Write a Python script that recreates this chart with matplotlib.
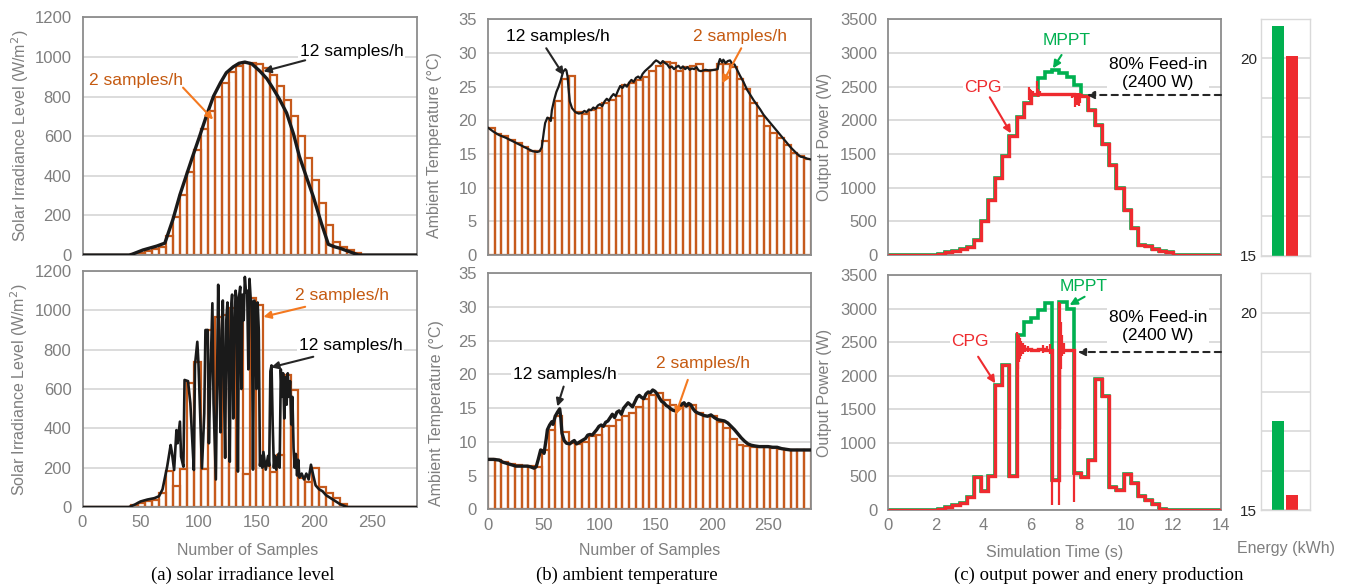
import numpy as np
import matplotlib
matplotlib.use('Agg')
import matplotlib.pyplot as plt

plt.rcParams['font.family'] = ['Liberation Sans', 'DejaVu Sans']

# ---- data: 2 samples/h bars (48 slots of 6 samples) ----
irr_top_2h = [0, 0, 0, 0, 0, 0, 0, 5, 12, 22, 32, 42, 95, 193, 305, 420, 530, 635, 725, 800,
              870, 925, 955, 970, 970, 965, 945, 910, 855, 780, 700, 600, 490, 380, 265, 150,
              65, 40, 25, 8, 0, 0, 0, 0, 0, 0, 0, 0]
irr_bot_2h = [0, 0, 0, 0, 0, 0, 0, 12, 20, 30, 38, 70, 181, 108, 193, 632, 739, 193, 900, 964,
              975, 1010, 1060, 170, 1065, 1025, 206, 180, 265, 671, 595, 150, 125, 198, 100, 71,
              46, 15, 0, 0, 0, 0, 0, 0, 0, 0, 0, 0]
temp_top_2h = [18.9, 18.0, 17.6, 17.1, 16.6, 16.0, 15.5, 15.4, 17.0, 20.3, 22.9, 26.2, 26.6, 21.2,
               21.0, 21.6, 21.9, 22.5, 23.0, 23.6, 25.3, 25.5, 26.0, 26.5, 27.3, 28.0, 28.7, 28.5,
               27.3, 27.9, 28.0, 28.3, 27.3, 27.4, 28.3, 28.4, 27.9, 26.2, 24.7, 22.5, 20.6, 19.1,
               18.1, 17.3, 16.4, 15.2, 14.7, 14.3]
temp_bot_2h = [7.4, 7.3, 7.0, 6.7, 6.5, 6.4, 6.4, 6.2, 8.8, 11.8, 13.8, 11.4, 9.8, 9.7, 10.0, 10.8,
               11.0, 12.3, 12.3, 13.3, 13.8, 14.3, 15.2, 16.3, 17.0, 17.2, 16.2, 15.4, 15.0, 15.3,
               15.4, 14.3, 13.9, 13.8, 12.9, 12.0, 10.5, 9.5, 9.4, 9.3, 9.3, 9.2, 9.1, 8.9, 8.8,
               8.8, 8.8, 8.8]

# ---- data: 12 samples/h lines, (sample, value) ----
irr_top_12h = [(0, 0), (40, 0), (42, 2), (52, 25), (64, 45), (71, 60), (78, 180), (84, 304),
               (90, 410), (95, 498), (101, 600), (107, 705), (113, 802), (119, 870), (124, 920),
               (130, 950), (135, 968), (140, 974), (146, 965), (153, 928), (159, 890), (164, 844),
               (170, 785), (176, 717), (182, 610), (187, 498), (193, 395), (199, 295), (206, 160),
               (212, 54), (217, 42), (222, 34), (230, 17), (238, 0), (288, 0)]
irr_bot_12h = [(0, 0), (40, 0), (45, 12), (50, 28), (56, 38), (62, 45), (66, 55), (69, 90), (73, 205),
               (76, 315), (77, 281), (79, 188), (81, 391), (82, 324), (84, 434), (85, 256), (87, 205),
               (88, 646), (91, 640), (93, 527), (95, 300), (96, 188), (97, 722), (99, 840), (100, 730),
               (103, 197), (105, 476), (106, 900), (108, 900), (109, 324), (110, 600), (112, 1036),
               (113, 527), (115, 140), (117, 1130), (118, 700), (119, 380), (120, 900), (121, 1050),
               (122, 600), (123, 250), (124, 950), (125, 1040), (126, 660), (127, 230), (128, 1000),
               (129, 1080), (130, 450), (131, 850), (132, 1100), (133, 1050), (134, 180), (135, 1070),
               (136, 1120), (137, 600), (138, 1080), (139, 950), (140, 1170), (141, 1090), (142, 1100),
               (143, 700), (144, 1160), (145, 1060), (146, 1040), (147, 190), (148, 1050), (149, 1000),
               (150, 600), (151, 1040), (152, 900), (153, 210), (154, 260), (155, 200), (156, 280),
               (158, 190), (160, 260), (161, 210), (162, 690), (163, 720), (164, 420), (165, 200),
               (166, 260), (167, 190), (169, 270), (170, 200), (171, 700), (172, 560), (173, 680),
               (174, 450), (175, 660), (176, 520), (177, 680), (178, 560), (179, 640), (180, 420),
               (181, 560), (182, 300), (183, 200), (184, 270), (185, 160), (186, 240), (187, 150),
               (189, 170), (191, 140), (193, 170), (195, 140), (197, 215), (199, 160), (201, 110),
               (204, 90), (207, 80), (210, 60), (214, 45), (218, 30), (222, 15), (228, 0), (288, 0)]
temp_top_12h = [(0, 18.9), (5, 18.3), (10, 17.8), (16, 17.4), (22, 16.9), (28, 16.4), (34, 15.9),
                (40, 15.4), (44, 15.3), (46, 15.4), (48, 16.0), (50, 18.5), (51, 19.6), (53, 20.4),
                (55, 20.2), (56, 19.9), (57, 21.5), (59, 23.0), (61, 24.2), (63, 25.0), (65, 26.0),
                (67, 27.2), (69, 27.6), (70, 27.4), (71, 26.5), (72, 24.5), (73, 22.8), (75, 21.8),
                (78, 21.2), (81, 21.0), (84, 21.1), (86, 21.4), (88, 21.2), (90, 21.6), (92, 21.5),
                (94, 21.9), (96, 21.7), (98, 22.2), (100, 22.4), (102, 22.1), (104, 22.8), (106, 23.2),
                (108, 22.9), (110, 23.5), (112, 23.9), (114, 23.6), (116, 24.4), (118, 25.1),
                (120, 24.8), (122, 25.3), (124, 25.0), (126, 25.6), (128, 26.0), (130, 25.7),
                (132, 26.3), (134, 26.5), (136, 26.2), (138, 26.9), (140, 27.3), (142, 27.6),
                (144, 27.9), (146, 28.2), (148, 28.6), (150, 28.9), (152, 28.7), (154, 28.4),
                (156, 28.8), (158, 28.5), (160, 28.3), (162, 27.8), (164, 28.0), (166, 27.6),
                (168, 27.9), (170, 28.1), (172, 27.7), (174, 28.0), (176, 27.6), (178, 27.9),
                (180, 27.5), (182, 27.7), (184, 27.6), (186, 27.9), (188, 27.4), (190, 27.3),
                (194, 27.5), (198, 27.4), (202, 27.5), (205, 27.6), (206, 28.6), (207, 29.1),
                (209, 28.6), (210, 29.0), (212, 28.5), (214, 28.8), (216, 28.9), (218, 28.4),
                (220, 28.3), (222, 27.6), (225, 26.6), (228, 25.7), (231, 24.6), (234, 23.8),
                (237, 23.0), (240, 22.3), (243, 21.6), (246, 20.8), (249, 20.2), (252, 19.6),
                (255, 19.0), (258, 18.4), (261, 17.8), (264, 17.2), (267, 16.6), (270, 16.0),
                (273, 15.5), (276, 15.0), (279, 14.6), (282, 14.5), (285, 14.3), (288, 14.2)]
temp_bot_12h = [(0, 7.4), (5, 7.4), (10, 7.3), (13, 7.0), (17, 6.8), (21, 6.6), (25, 6.4), (30, 6.4),
                (35, 6.4), (38, 6.3), (41, 6.1), (43, 6.3), (45, 7.5), (47, 8.8), (49, 8.6), (50, 8.3),
                (52, 10.5), (53, 11.8), (55, 12.5), (57, 13.0), (58, 12.6), (60, 13.8), (62, 14.4),
                (64, 14.9), (65, 13.5), (66, 11.3), (68, 10.2), (70, 9.8), (73, 9.7), (75, 10.0),
                (77, 10.2), (79, 9.7), (81, 9.9), (83, 10.1), (85, 10.3), (87, 10.5), (89, 11.0),
                (91, 11.1), (93, 11.0), (95, 11.4), (97, 11.8), (99, 12.3), (101, 12.5), (103, 12.3),
                (105, 12.9), (107, 13.1), (109, 13.6), (111, 14.1), (113, 13.6), (115, 14.4),
                (117, 14.6), (119, 14.1), (121, 15.0), (123, 15.4), (125, 15.8), (127, 15.5),
                (129, 15.2), (131, 15.9), (133, 16.6), (135, 16.9), (137, 16.6), (139, 16.4),
                (141, 17.1), (143, 17.4), (145, 17.3), (147, 17.7), (149, 17.5), (151, 17.1),
                (153, 16.5), (155, 16.0), (157, 15.8), (159, 15.4), (161, 15.2), (163, 14.9),
                (165, 14.7), (167, 14.6), (169, 14.9), (171, 15.2), (173, 15.6), (175, 15.8),
                (177, 15.3), (179, 15.7), (181, 15.5), (183, 14.9), (185, 14.5), (187, 14.3),
                (190, 14.1), (193, 13.9), (196, 13.8), (199, 14.0), (202, 13.6), (205, 13.3),
                (208, 13.2), (211, 13.1), (214, 12.8), (217, 12.3), (220, 11.8), (223, 11.2),
                (226, 10.6), (229, 10.1), (232, 9.7), (235, 9.5), (238, 9.4), (242, 9.3), (246, 9.3),
                (250, 9.3), (254, 9.2), (258, 9.2), (262, 9.0), (266, 8.9), (270, 8.8), (276, 8.8),
                (282, 8.8), (288, 8.8)]

# ---- data: output power per 0.3 s step ----
mppt_top = [0, 0, 0, 0, 0, 0, 0, 15, 40, 60, 90, 115, 223, 505, 817, 1148, 1470, 1767, 2044, 2262,
            2380, 2623, 2722, 2747, 2700, 2640, 2525, 2361, 2153, 1930, 1643, 1336, 990, 668, 400,
            144, 140, 89, 60, 45, 5, 0, 0, 0, 0, 0, 0, 0]
cpg_top = [0, 0, 0, 0, 0, 0, 0, 15, 40, 60, 90, 115, 223, 505, 817, 1148, 1470, 1767, 2044, 2262,
           2395, 2390, 2385, 2390, 2385, 2390, 2380, 2361, 2153, 1930, 1643, 1336, 990, 668, 400,
           144, 140, 89, 60, 45, 5, 0, 0, 0, 0, 0, 0, 0]
mppt_bot = [0, 0, 0, 0, 0, 0, 0, 20, 50, 70, 100, 190, 496, 288, 510, 1861, 2159, 500, 2600, 2800,
            2860, 2975, 3080, 450, 3100, 3000, 550, 490, 740, 1950, 1700, 350, 300, 530, 400, 208,
            149, 94, 15, 0, 0, 0, 0, 0, 0, 0, 0, 0]
cpg_bot = [0, 0, 0, 0, 0, 0, 0, 20, 50, 70, 100, 190, 496, 288, 510, 1861, 2159, 500, 2420, 2400,
           2390, 2395, 2385, 450, 2390, 2380, 550, 490, 740, 1950, 1700, 350, 300, 530, 400, 208,
           149, 94, 15, 0, 0, 0, 0, 0, 0, 0, 0, 0]
# CPG transients (time s, low W, high W)
cpg_top_spikes = [(5.90, 2300, 2490), (5.96, 2320, 2470), (6.02, 2340, 2450), (6.10, 2360, 2430),
                  (6.26, 2370, 2580), (6.32, 2350, 2470), (6.40, 2370, 2440), (7.75, 2330, 2410),
                  (7.85, 2200, 2400), (7.95, 2230, 2400), (8.02, 2210, 2400), (8.08, 2260, 2400)]
cpg_bot_spikes = [(5.40, 500, 2650), (5.44, 2100, 2620), (5.48, 2200, 2600), (5.53, 2250, 2560),
                  (5.60, 2300, 2520), (5.68, 2330, 2480), (5.76, 2350, 2460), (5.86, 2360, 2440),
                  (6.50, 2340, 2460), (6.66, 2350, 2450), (6.80, 2330, 2470), (6.90, 80, 450),
                  (7.20, 80, 3100), (7.24, 1200, 3080), (7.28, 2100, 2800), (7.33, 2300, 2600),
                  (7.40, 2330, 2480), (7.80, 120, 550)]

energy_labels = ['MPPT', 'CPG']
energy_top = [20.82, 20.05]
energy_bot = [17.25, 15.39]

# ---- style ----
W, H = 1345, 587
ORANGE = '#C65A1C'
ORANGE_TXT = '#C55A11'
ORANGE_ARR = '#F47920'
GREEN = '#00B050'
RED = '#EE2B2F'
GRAY = '#7F7F7F'
FRAME = '#8C8C8C'
GRID = '#D9D9D9'

fig = plt.figure(figsize=(W / 100, H / 100), dpi=100)


def px_axes(x0, y0, x1, y1):
    return fig.add_axes([x0 / W, 1 - y1 / H, (x1 - x0) / W, (y1 - y0) / H])


def px_text(x, y, s, **kw):
    fig.text(x / W, 1 - y / H, s, ha='center', va='center', **kw)


def style(ax, show_x):
    for sp in ax.spines.values():
        sp.set_color(FRAME)
        sp.set_linewidth(1.3)
    ax.grid(axis='y', color=GRID, lw=1.3)
    ax.set_axisbelow(True)
    ax.tick_params(length=0, labelsize=12, labelcolor=GRAY, pad=8)
    ax.tick_params(axis='x', pad=6)
    if not show_x:
        ax.set_xticklabels([])


box = dict(facecolor='white', edgecolor='none', pad=1)


def note(ax, s, pos, start, end, color, acolor):
    ax.text(pos[0], pos[1], s, color=color, fontsize=12.5, ha='center', va='center', bbox=box, zorder=6)
    ax.annotate('', xy=end, xytext=start, zorder=6,
                arrowprops=dict(arrowstyle='-|>', color=acolor, lw=1.5, mutation_scale=11,
                                shrinkA=0, shrinkB=0))


slot_x = np.arange(48) * 6

# ---- (a) solar irradiance ----
for (y0, y1), bars, line, show_x in [((17.3, 255), irr_top_2h, irr_top_12h, False),
                                     ((271, 507), irr_bot_2h, irr_bot_12h, True)]:
    ax = px_axes(82.5, y0, 416.5, y1)
    ax.bar(slot_x, bars, width=6, align='edge', fill=False, edgecolor=ORANGE, lw=1.6, zorder=2)
    lx, ly = zip(*line)
    ax.plot(lx, ly, color='#1A1A1A', lw=2.4 if not show_x else 1.9, zorder=3)
    ax.set_xlim(0, 288)
    ax.set_ylim(0, 1200)
    ax.set_yticks(range(0, 1201, 200))
    ax.set_xticks(range(0, 251, 50))
    style(ax, show_x)
    if show_x:
        a_bot = ax
    else:
        a_top = ax

note(a_top, '12 samples/h', (232, 1028), (192, 983), (156, 927), 'black', '#262626')
note(a_top, '2 samples/h', (46, 882), (86.7, 845), (112.6, 684), ORANGE_TXT, ORANGE_ARR)
note(a_bot, '2 samples/h', (224, 1073), (192, 1018), (156, 967), ORANGE_TXT, ORANGE_ARR)
note(a_bot, '12 samples/h', (231, 819), (199, 764), (162.6, 710), 'black', '#262626')

# ---- (b) ambient temperature ----
for (y0, y1), bars, line, show_x in [((19.3, 255), temp_top_2h, temp_top_12h, False),
                                     ((273.3, 509.3), temp_bot_2h, temp_bot_12h, True)]:
    ax = px_axes(488, y0, 810.7, y1)
    ax.bar(slot_x, bars, width=6, align='edge', fill=False, edgecolor=ORANGE, lw=1.6, zorder=2)
    lx, ly = zip(*line)
    ax.plot(lx, ly, color='#1A1A1A', lw=1.6 if not show_x else 2.4, zorder=3)
    ax.set_xlim(0, 288)
    ax.set_ylim(0, 35)
    ax.set_yticks(range(0, 36, 5))
    ax.set_xticks(range(0, 251, 50))
    style(ax, show_x)
    if show_x:
        b_bot = ax
    else:
        b_top = ax

note(b_top, '12 samples/h', (62.8, 32.4), (52, 30.7), (67.5, 26.7), 'black', '#262626')
note(b_top, '2 samples/h', (225.3, 32.4), (226, 30.7), (209, 25.5), ORANGE_TXT, ORANGE_ARR)
note(b_bot, '12 samples/h', (68.4, 20.0), (67.5, 18.2), (61.9, 15.25), 'black', '#262626')
note(b_bot, '2 samples/h', (192.3, 21.65), (178.3, 19.2), (167.4, 14.0), ORANGE_TXT, ORANGE_ARR)

# ---- (c) output power ----
t_edges = np.arange(49) * 0.3
for (y0, y1), mppt, cpg, spikes, show_x in [((19.3, 255), mppt_top, cpg_top, cpg_top_spikes, False),
                                            ((275, 510), mppt_bot, cpg_bot, cpg_bot_spikes, True)]:
    ax = px_axes(888.3, y0, 1221, y1)
    ax.stairs(mppt, t_edges, baseline=None, color=GREEN, lw=2.6, zorder=2)
    ax.stairs(cpg, t_edges, baseline=None, color=RED, lw=2.4, zorder=3)
    st, slo, shi = zip(*spikes)
    ax.vlines(st, slo, shi, color=RED, lw=1.6, zorder=3)
    ax.set_xlim(0, 14)
    ax.set_ylim(0, 3500)
    ax.set_yticks(range(0, 3501, 500))
    ax.set_xticks(range(0, 15, 2))
    style(ax, show_x)
    if show_x:
        c_bot = ax
    else:
        c_top = ax

note(c_top, 'MPPT', (7.5, 3182), (7.29, 2970), (6.93, 2772), GREEN, GREEN)
note(c_top, 'CPG', (3.99, 2490), (4.27, 2342), (5.16, 1807), RED, RED)
note(c_bot, 'MPPT', (8.22, 3330), (8.26, 3176), (7.63, 3053), GREEN, GREEN)
note(c_bot, 'CPG', (3.43, 2506), (3.78, 2283), (4.5, 1886), RED, RED)
for ax, ytxt, yarr, xhead in [(c_top, 2700, 2376, 8.35), (c_bot, 2740, 2353, 7.97)]:
    ax.text(11.35, ytxt, '80% Feed-in\n(2400 W)', fontsize=12.5, ha='center', va='center',
            linespacing=1.25, bbox=box, zorder=6)
    ax.annotate('', xy=(xhead, yarr), xytext=(14, yarr), zorder=6,
                arrowprops=dict(arrowstyle='-|>', color='#262626', lw=1.5, ls=(0, (3, 2.5)),
                                mutation_scale=11, shrinkA=0, shrinkB=0))

# ---- energy production ----
for (y0, y1), vals in [((18.7, 255.8), energy_top), ((273.4, 510), energy_bot)]:
    ax = px_axes(1261, y0, 1310, y1)
    ax.bar([0, 1], vals, width=0.88, color=[GREEN, RED], zorder=2)
    ax.set_xlim(-1.2, 2.3)
    ax.set_ylim(15, 21)
    ax.set_yticks(range(15, 22))
    ax.set_yticklabels(['15', '', '', '', '', '20', ''])
    ax.set_xticks([])
    ax.grid(axis='y', color=GRID, lw=1.2)
    ax.set_axisbelow(True)
    for sp in ax.spines.values():
        sp.set_color(GRID)
        sp.set_linewidth(1.0)
    ax.tick_params(length=0, labelsize=11, labelcolor='#262626', pad=3)

# ---- axis labels and captions ----
lab = dict(fontsize=11.5, color=GRAY)
px_text(20, 136, 'Solar Irradiance Level (W/m$^2$)', rotation=90, **lab)
px_text(19, 390, 'Solar Irradiance Level (W/m$^2$)', rotation=90, **lab)
px_text(435, 145, 'Ambient Temperature (°C)', rotation=90, **lab)
px_text(436.5, 413, 'Ambient Temperature (°C)', rotation=90, **lab)
px_text(825, 137, 'Output Power (W)', rotation=90, **lab)
px_text(825, 393, 'Output Power (W)', rotation=90, **lab)
px_text(248, 551, 'Number of Samples', **lab)
px_text(650, 551, 'Number of Samples', **lab)
px_text(1055, 552, 'Simulation Time (s)', **lab)
px_text(1286, 549, 'Energy (kWh)', **lab)

cap = dict(fontsize=13.5, color='black', family='Liberation Serif')
px_text(243, 575, '(a) solar irradiance level', **cap)
px_text(627, 575, '(b) ambient temperature', **cap)
px_text(1099, 575, '(c) output power and enery production', **cap)

fig.savefig('out.png', dpi=100)
